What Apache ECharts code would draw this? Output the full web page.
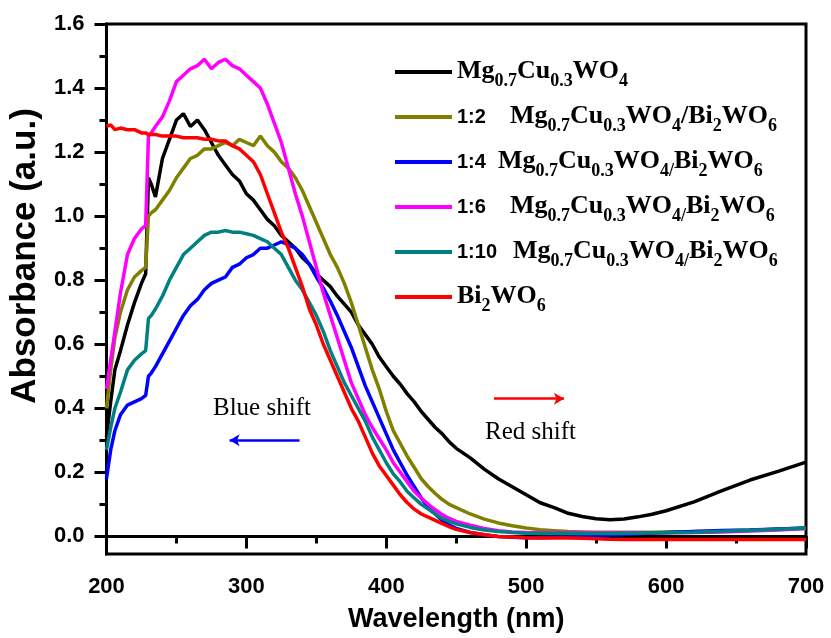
<!DOCTYPE html>
<html>
<head>
<meta charset="utf-8">
<script src="https://cdn.jsdelivr.net/npm/echarts@6/dist/echarts.min.js"></script>
<style>
  html, body { margin: 0; padding: 0; background: #fff; }
  #chart { width: 831px; height: 638px; }
</style>
</head>
<body>
<div id="chart"></div>
<script>
// UV-vis absorption spectra, wavelength in nm
const wavelengths = [
  200,203,206,210,215,220,225,228,230,232,
  235,240,245,250,255,260,265,270,275,280,
  285,290,295,300,305,310,315,320,325,330,
  335,340,345,350,355,360,365,370,375,380,
  385,390,395,400,405,410,415,420,425,430,
  435,440,445,450,460,470,480,490,500,510,
  520,530,540,550,560,570,580,590,600,620,
  640,660,680,700
];

const mgCuWO4 = [
  0.31,0.42,0.52,0.58,0.66,0.73,0.79,0.82,1.12,1.10,
  1.06,1.18,1.24,1.30,1.32,1.28,1.30,1.27,1.23,1.19,
  1.16,1.13,1.11,1.07,1.05,1.02,0.99,0.97,0.94,0.92,
  0.90,0.87,0.85,0.82,0.80,0.78,0.75,0.725,0.70,0.66,
  0.63,0.60,0.56,0.53,0.50,0.475,0.445,0.42,0.39,0.365,
  0.34,0.32,0.295,0.275,0.245,0.21,0.18,0.155,0.13,0.105,
  0.09,0.072,0.062,0.055,0.052,0.054,0.061,0.069,0.08,0.108,
  0.143,0.176,0.203,0.232
];

const ratio1to2 = [
  0.40,0.52,0.62,0.70,0.77,0.81,0.83,0.84,1.00,1.01,
  1.02,1.05,1.08,1.12,1.15,1.18,1.19,1.21,1.21,1.22,
  1.23,1.22,1.24,1.23,1.22,1.25,1.22,1.20,1.17,1.15,
  1.12,1.08,1.03,0.98,0.93,0.88,0.84,0.79,0.73,0.66,
  0.59,0.52,0.46,0.39,0.33,0.29,0.25,0.215,0.18,0.155,
  0.134,0.115,0.10,0.09,0.07,0.054,0.042,0.033,0.026,0.021,
  0.018,0.015,0.014,0.013,0.013,0.013,0.013,0.013,0.014,0.015,
  0.017,0.019,0.022,0.025
];

const ratio1to4 = [
  0.18,0.27,0.33,0.38,0.41,0.42,0.43,0.44,0.50,0.51,
  0.53,0.57,0.61,0.65,0.69,0.72,0.74,0.77,0.79,0.80,
  0.81,0.84,0.85,0.87,0.88,0.90,0.90,0.91,0.92,0.91,
  0.90,0.88,0.85,0.81,0.775,0.735,0.69,0.64,0.59,0.53,
  0.47,0.42,0.37,0.32,0.27,0.23,0.19,0.155,0.12,0.09,
  0.07,0.05,0.035,0.025,0.012,0.005,0.0,-0.003,-0.004,-0.004,
  -0.003,-0.002,0.0,0.002,0.004,0.006,0.008,0.01,0.012,0.015,
  0.018,0.02,0.023,0.026
];

const ratio1to6 = [
  0.46,0.55,0.64,0.76,0.88,0.93,0.96,0.97,1.25,1.26,
  1.28,1.31,1.36,1.42,1.44,1.46,1.47,1.49,1.46,1.48,
  1.49,1.47,1.46,1.44,1.42,1.40,1.35,1.29,1.23,1.15,
  1.07,1.00,0.92,0.84,0.76,0.69,0.62,0.55,0.48,0.43,
  0.38,0.34,0.305,0.27,0.23,0.20,0.17,0.14,0.12,0.10,
  0.083,0.068,0.056,0.047,0.035,0.025,0.018,0.014,0.012,0.011,
  0.011,0.011,0.011,0.011,0.011,0.011,0.011,0.011,0.011,0.012,
  0.014,0.017,0.02,0.025
];

const ratio1to10 = [
  0.27,0.34,0.40,0.45,0.52,0.55,0.57,0.58,0.68,0.69,
  0.71,0.75,0.80,0.84,0.88,0.90,0.92,0.94,0.95,0.95,
  0.955,0.95,0.95,0.945,0.94,0.93,0.92,0.90,0.88,0.84,
  0.80,0.77,0.73,0.69,0.64,0.58,0.53,0.48,0.44,0.40,
  0.36,0.31,0.27,0.23,0.195,0.17,0.14,0.12,0.10,0.085,
  0.07,0.056,0.047,0.039,0.028,0.02,0.015,0.012,0.01,0.009,
  0.009,0.009,0.009,0.009,0.009,0.01,0.01,0.011,0.011,0.013,
  0.016,0.019,0.022,0.026
];

const bi2WO6 = [
  1.28,1.285,1.27,1.275,1.27,1.27,1.26,1.26,1.255,1.255,
  1.255,1.25,1.25,1.25,1.245,1.245,1.245,1.24,1.24,1.235,
  1.235,1.22,1.21,1.19,1.17,1.13,1.07,1.01,0.95,0.90,
  0.84,0.78,0.71,0.66,0.60,0.55,0.50,0.45,0.40,0.36,
  0.31,0.26,0.22,0.19,0.16,0.13,0.105,0.085,0.07,0.06,
  0.05,0.04,0.03,0.022,0.012,0.005,0.0,-0.002,-0.004,-0.005,
  -0.005,-0.005,-0.006,-0.007,-0.009,-0.01,-0.01,-0.01,-0.01,-0.01,
  -0.01,-0.01,-0.01,-0.01
];

// axis ticks
const yMajorTicks = [0, 0.2, 0.4, 0.6, 0.8, 1.0, 1.2, 1.4, 1.6];
const yMinorTicks = [0.1, 0.3, 0.5, 0.7, 0.9, 1.1, 1.3, 1.5];

// shift arrows (wavelength, absorbance)
const blueShiftArrow = [[338, 0.30], [288, 0.30]];
const redShiftArrow = [[477, 0.43], [527, 0.43]];

const SANS = "'Liberation Sans', Arial, sans-serif";
const SERIF = "'Liberation Serif', 'Times New Roman', serif";

const seriesDefs = [
  { key: 'mg',  values: mgCuWO4,    color: '#000000',
    label: '{n|Mg}{s|0.7}{n|Cu}{s|0.3}{n|WO}{s|4}' },
  { key: 'r2',  values: ratio1to2,  color: '#808000',
    label: '{r|1:2}{g2| }{n|Mg}{s|0.7}{n|Cu}{s|0.3}{n|WO}{s|4}{n|/Bi}{s|2}{n|WO}{s|6}' },
  { key: 'r4',  values: ratio1to4,  color: '#0000ff',
    label: '{r|1:4}{g1| }{n|Mg}{s|0.7}{n|Cu}{s|0.3}{n|WO}{s|4/}{n|Bi}{s|2}{n|WO}{s|6}' },
  { key: 'r6',  values: ratio1to6,  color: '#ff00ff',
    label: '{r|1:6}{g2| }{n|Mg}{s|0.7}{n|Cu}{s|0.3}{n|WO}{s|4/}{n|Bi}{s|2}{n|WO}{s|6}' },
  { key: 'r10', values: ratio1to10, color: '#008080',
    label: '{r|1:10}{g3| }{n|Mg}{s|0.7}{n|Cu}{s|0.3}{n|WO}{s|4/}{n|Bi}{s|2}{n|WO}{s|6}' },
  { key: 'bi',  values: bi2WO6,     color: '#ff0000',
    label: '{n|Bi}{s|2}{n|WO}{s|6}' }
];

const labelByKey = {};
seriesDefs.forEach(d => { labelByKey[d.key] = d.label; });

function pairs(values) {
  return wavelengths.map((w, i) => [w, values[i]]);
}

const series = seriesDefs.map(d => ({
  name: d.key,
  type: 'line',
  data: pairs(d.values),
  showSymbol: false,
  symbol: 'none',
  lineStyle: { color: d.color, width: 3.5 },
  itemStyle: { color: d.color },
  emphasis: { disabled: true },
  silent: true
}));

// arrows drawn as mark lines in data space
series[0].markLine = {
  silent: true,
  symbol: ['none', 'arrow'],
  symbolSize: [9, 10],
  label: { show: false },
  animation: false,
  data: [
    [{ coord: blueShiftArrow[0], lineStyle: { color: '#0000ff', width: 2.5, type: 'solid' }, itemStyle: { color: '#0000ff' } },
     { coord: blueShiftArrow[1] }],
    [{ coord: redShiftArrow[0], lineStyle: { color: '#ff0000', width: 2.5, type: 'solid' }, itemStyle: { color: '#ff0000' } },
     { coord: redShiftArrow[1] }]
  ]
};

const chart = echarts.init(document.getElementById('chart'), null, { renderer: 'canvas' });

const option = {
  animation: false,
  backgroundColor: '#ffffff',
  grid: {
    left: 104, right: 25, top: 24, bottom: 81,
    show: true, borderColor: '#000', borderWidth: 3, backgroundColor: 'transparent'
  },
  xAxis: {
    type: 'value',
    min: 200, max: 700, interval: 100,
    name: 'Wavelength (nm)',
    nameLocation: 'middle',
    nameGap: 52,
    nameTextStyle: { fontFamily: SANS, fontWeight: 'bold', fontSize: 27, color: '#000' },
    axisLine: { lineStyle: { color: '#000', width: 3 } },
    axisTick: { show: true, inside: false, length: 12, lineStyle: { color: '#000', width: 3 } },
    minorTick: { show: true, splitNumber: 2, length: 7, lineStyle: { color: '#000', width: 3 } },
    splitLine: { show: false },
    axisLabel: { fontFamily: SANS, fontWeight: 'bold', fontSize: 22, color: '#000', margin: 22 }
  },
  yAxis: [
    {
      type: 'value',
      min: -0.055, max: 1.6,
      name: 'Absorbance (a.u.)',
      nameLocation: 'middle',
      nameRotate: 90,
      nameGap: 50,
      nameTextStyle: { fontFamily: SANS, fontWeight: 'bold', fontSize: 35, color: '#000',
                       padding: [0, 0, 0, 66] },
      axisLine: { show: true, lineStyle: { color: '#000', width: 3 } },
      axisTick: { show: true, inside: false, length: 12, customValues: yMajorTicks,
                  lineStyle: { color: '#000', width: 3 } },
      splitLine: { show: false },
      axisLabel: { fontFamily: SANS, fontWeight: 'bold', fontSize: 22, color: '#000', margin: 22,
                   customValues: yMajorTicks, formatter: v => v.toFixed(1) }
    },
    {
      type: 'value',
      min: -0.055, max: 1.6,
      position: 'left',
      offset: 0,
      axisLine: { show: false },
      axisTick: { show: true, inside: false, length: 7, customValues: yMinorTicks,
                  lineStyle: { color: '#000', width: 3 } },
      axisLabel: { show: false },
      splitLine: { show: false }
    }
  ],
  legend: {
    orient: 'vertical',
    left: 390,
    top: 47,
    itemWidth: 57,
    itemHeight: 4,
    itemGap: 7,
    icon: 'rect',
    selectedMode: false,
    data: seriesDefs.map(d => d.key),
    formatter: name => labelByKey[name],
    textStyle: {
      color: '#000',
      padding: [0, 0, 14, 0],
      rich: {
        n:  { fontFamily: SERIF, fontWeight: 'bold', fontSize: 26, lineHeight: 26, verticalAlign: 'top', padding: [6, 0, 0, 0] },
        s:  { fontFamily: SERIF, fontWeight: 'bold', fontSize: 18, lineHeight: 18, verticalAlign: 'top', padding: [20, 0, 0, 0] },
        r:  { fontFamily: SANS, fontWeight: 'bold', fontSize: 20, lineHeight: 20, verticalAlign: 'top', padding: [10, 0, 0, 0] },
        g1: { fontSize: 10, width: 12, verticalAlign: 'top' },
        g2: { fontSize: 10, width: 24, verticalAlign: 'top' },
        g3: { fontSize: 10, width: 16, verticalAlign: 'top' }
      }
    }
  },
  graphic: [
    { type: 'text', left: 213, top: 396, silent: true,
      style: { text: 'Blue shift', font: "25px 'Liberation Serif', 'Times New Roman', serif", fill: '#000' } },
    { type: 'text', left: 485, top: 420, silent: true,
      style: { text: 'Red shift', font: "25px 'Liberation Serif', 'Times New Roman', serif", fill: '#000' } }
  ],
  series: series
};

chart.setOption(option);
</script>
</body>
</html>
